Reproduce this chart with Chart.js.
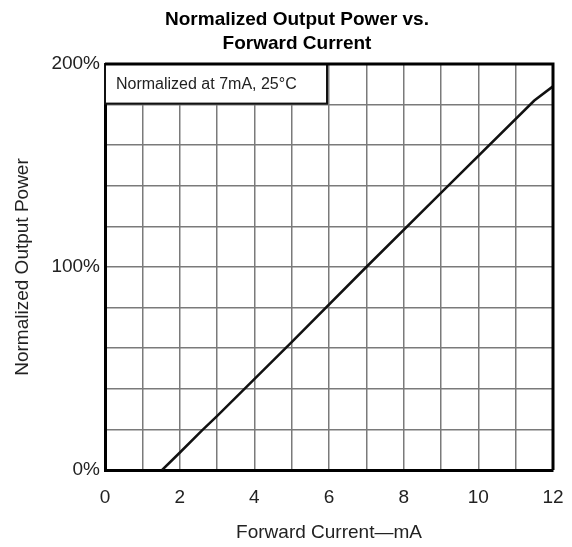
<!DOCTYPE html>
<html>
<head>
<meta charset="utf-8">
<script src="https://cdn.jsdelivr.net/npm/chart.js@4"></script>
<style>
    html, body { margin: 0; padding: 0; background: #fff; }
    #wrap { width: 572px; height: 547px; }
</style>
</head>
<body>
<div id="wrap"><canvas id="powerChart" width="572" height="547"></canvas></div>
<script>
// values
const currentMa = [1.53, 2.0, 2.6, 3.0, 5.0, 7.0, 9.0, 11.5, 12.0];
const outputPct = [0, 8.5, 19.5, 26.5, 63, 100, 136.5, 182, 189];

const titleLines = ['Normalized Output Power vs.', 'Forward Current'];
const noteText = 'Normalized at 7mA, 25°C';
const xTitle = 'Forward Current\u2014mA';
const yTitle = 'Normalized Output Power';

const FONT = "'Liberation Sans', Arial, sans-serif";

// title, frame and the note box
const decorPlugin = {
    id: 'decor',
    beforeDatasetsDraw(chart) {
        const ctx = chart.ctx;
        const x = chart.scales.x;
        const y = chart.scales.y;
        const left = x.getPixelForValue(0);
        const right = x.getPixelForValue(6) - 2;
        const top = y.getPixelForValue(200);
        const bottom = y.getPixelForValue(180) - 1;
        ctx.save();
        ctx.fillStyle = '#fff';
        ctx.fillRect(left, top, right - left, bottom - top);
        ctx.strokeStyle = '#111';
        ctx.lineWidth = 2;
        ctx.strokeRect(left, top, right - left, bottom - top);
        ctx.fillStyle = '#222';
        ctx.font = '16px ' + FONT;
        ctx.textAlign = 'left';
        ctx.textBaseline = 'middle';
        ctx.fillText(noteText, left + 11, (top + bottom) / 2 + 1);
        ctx.restore();
    },
    afterDraw(chart) {
        const ctx = chart.ctx;
        const area = chart.chartArea;
        ctx.save();
        ctx.strokeStyle = '#000';
        ctx.lineWidth = 3;
        ctx.beginPath();
        ctx.moveTo(area.left, area.top);
        ctx.lineTo(area.right, area.top);
        ctx.lineTo(area.right, area.bottom);
        ctx.stroke();

        ctx.fillStyle = '#000';
        ctx.font = 'bold 19px ' + FONT;
        ctx.textAlign = 'center';
        ctx.textBaseline = 'middle';
        ctx.fillText(titleLines[0], 297, 20);
        ctx.fillText(titleLines[1], 297, 44);
        ctx.restore();
    }
};

const ctx = document.getElementById('powerChart');
new Chart(ctx, {
    type: 'line',
    data: {
        datasets: [{
            data: currentMa.map((c, i) => ({ x: c, y: outputPct[i] })),
            borderColor: '#111',
            borderWidth: 2.5,
            pointRadius: 0,
            tension: 0,
            fill: false
        }]
    },
    options: {
        responsive: false,
        animation: false,
        events: [],
        layout: { padding: { top: 64, right: 19, left: 0, bottom: 0 } },
        plugins: {
            legend: { display: false },
            title: { display: false },
            tooltip: { enabled: false }
        },
        scales: {
            x: {
                type: 'linear',
                min: 0,
                max: 12,
                afterFit: function(scale) {
                    scale.height = 77;
                    scale.paddingLeft = 0;
                    scale.paddingRight = 0;
                },
                border: { color: '#000', width: 3 },
                grid: { color: '#7a7a7a', lineWidth: 1.5, drawTicks: false },
                ticks: {
                    stepSize: 1,
                    padding: 16,
                    color: '#222',
                    font: { family: FONT, size: 19 },
                    callback: function(value) {
                        return value % 2 === 0 ? String(value) : '';
                    }
                },
                title: {
                    display: true,
                    text: xTitle,
                    color: '#222',
                    font: { family: FONT, size: 19 },
                    padding: { top: 0, bottom: 3 }
                }
            },
            y: {
                min: 0,
                max: 200,
                afterFit: function(scale) { scale.width = 105; },
                border: { color: '#000', width: 3 },
                grid: { color: '#7a7a7a', lineWidth: 1.5, drawTicks: false },
                ticks: {
                    stepSize: 20,
                    padding: 5,
                    color: '#222',
                    font: { family: FONT, size: 19 },
                    callback: function(value) {
                        return value % 100 === 0 ? value + '%' : '';
                    }
                },
                title: {
                    display: true,
                    text: yTitle,
                    color: '#222',
                    font: { family: FONT, size: 19 },
                    padding: { top: 11, bottom: 0 }
                }
            }
        }
    },
    plugins: [decorPlugin]
});
</script>
</body>
</html>
